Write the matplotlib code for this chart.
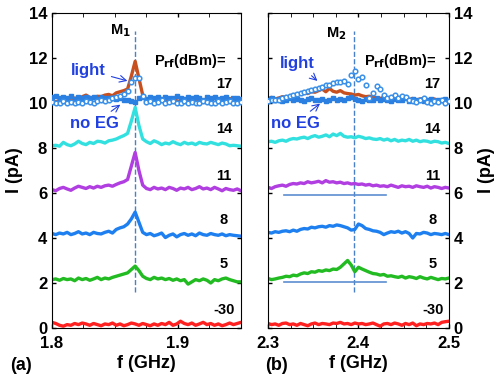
import matplotlib.pyplot as plt
import numpy as np

plt.rcParams['font.family'] = ['Liberation Sans', 'DejaVu Sans']
plt.rcParams['font.weight'] = 'bold'

# sample frequencies (GHz)
f_a = np.round(np.arange(1.800, 1.9501, 0.003), 3)
f_b = np.round(np.arange(2.300, 2.5001, 0.004), 3)

# panel (a) currents, pA
a17 = [10.10, 10.05, 10.12, 10.20, 10.15, 10.10, 10.22, 10.18, 10.28, 10.35,
       10.25, 10.20, 10.30, 10.28, 10.35, 10.38, 10.32, 10.45, 10.50, 10.55,
       10.62, 11.20, 11.85, 11.10, 10.35, 10.10, 10.18, 10.05, 10.12, 10.20,
       10.08, 10.15, 10.22, 10.10, 10.05, 10.12, 10.08, 10.20, 10.15, 10.10,
       10.05, 10.18, 10.12, 10.22, 10.08, 10.15, 10.10, 10.20, 10.12, 10.05, 10.10]
a_light = [10.05, 9.98, 10.02, 10.08, 10.00, 10.05, 9.98, 10.06, 10.02, 10.10,
           10.05, 10.00, 10.08, 10.12, 10.10, 10.15, 10.20, 10.25, 10.30, 10.40,
           10.55, 10.95, 11.10, 11.12, 10.30, 10.05, 10.10, 9.98, 10.05, 10.12,
           10.00, 10.05, 10.10, 9.98, 10.02, 10.08, 10.00, 10.05, 9.98, 10.02,
           10.10, 10.05, 9.98, 10.02, 10.08, 10.00, 10.05, 10.10, 10.02, 9.98, 10.05]
a_noeg = [10.25, 10.30, 10.20, 10.28, 10.22, 10.30, 10.18, 10.25, 10.20, 10.28,
          10.22, 10.25, 10.18, 10.26, 10.20, 10.24, 10.22, 10.18, 10.20, 10.15,
          10.12, 10.10, 10.05, 10.20, 10.25, 10.18, 10.28, 10.22, 10.25, 10.18,
          10.26, 10.20, 10.24, 10.30, 10.22, 10.18, 10.25, 10.20, 10.28, 10.22,
          10.15, 10.25, 10.20, 10.28, 10.18, 10.22, 10.25, 10.15, 10.20, 10.22, 10.18]
a14 = [8.10, 8.12, 8.08, 8.25, 8.15, 8.10, 8.18, 8.30, 8.20, 8.15,
       8.25, 8.20, 8.30, 8.28, 8.22, 8.32, 8.35, 8.40, 8.48, 8.55,
       8.65, 9.20, 9.80, 9.00, 8.40, 8.28, 8.20, 8.32, 8.25, 8.15,
       8.22, 8.18, 8.28, 8.20, 8.15, 8.25, 8.18, 8.22, 8.15, 8.25,
       8.20, 8.18, 8.25, 8.20, 8.15, 8.22, 8.18, 8.10, 8.12, 8.10, 8.08]
a11 = [6.15, 6.10, 6.20, 6.25, 6.18, 6.12, 6.22, 6.30, 6.25, 6.20,
       6.28, 6.22, 6.30, 6.25, 6.32, 6.35, 6.30, 6.38, 6.45, 6.50,
       6.60, 7.20, 7.80, 7.00, 6.35, 6.20, 6.15, 6.25, 6.18, 6.22,
       6.15, 6.25, 6.20, 6.12, 6.22, 6.18, 6.25, 6.15, 6.20, 6.28,
       6.18, 6.22, 6.15, 6.25, 6.18, 6.10, 6.20, 6.15, 6.12, 6.18, 6.10]
a8 = [4.20, 4.15, 4.22, 4.18, 4.25, 4.15, 4.20, 4.28, 4.18, 4.22,
      4.15, 4.25, 4.20, 4.18, 4.25, 4.30, 4.22, 4.38, 4.45, 4.50,
      4.62, 4.85, 5.15, 4.70, 4.25, 4.15, 4.20, 4.10, 4.15, 4.22,
      4.02, 4.12, 4.18, 4.05, 4.15, 4.20, 4.12, 4.18, 4.10, 4.22,
      4.15, 4.12, 4.20, 4.15, 4.12, 4.18, 4.10, 4.15, 4.12, 4.10, 4.08]
a5 = [2.15, 2.18, 2.12, 2.20, 2.15, 2.18, 2.10, 2.22, 2.15, 2.20,
      2.12, 2.18, 2.25, 2.15, 2.22, 2.18, 2.25, 2.30, 2.35, 2.40,
      2.45, 2.60, 2.75, 2.55, 2.30, 2.20, 2.15, 2.25, 2.18, 2.22,
      2.15, 2.20, 2.12, 2.18, 2.10, 2.15, 1.95, 2.05, 2.15, 2.10,
      2.18, 2.12, 2.00, 2.15, 2.10, 2.18, 2.22, 2.15, 2.10, 2.05, 2.05]
a_m30 = [0.25, 0.20, 0.12, 0.08, 0.15, 0.12, 0.20, 0.15, 0.22, 0.18,
         0.12, 0.20, 0.15, 0.10, 0.18, 0.15, 0.22, 0.12, 0.18, 0.10,
         0.15, 0.22, 0.18, 0.12, 0.20, 0.15, 0.10, 0.18, 0.12, 0.20,
         0.15, 0.25, 0.12, 0.18, 0.30, 0.20, 0.15, 0.22, 0.12, 0.18,
         0.25, 0.15, 0.20, 0.12, 0.18, 0.10, 0.15, 0.22, 0.15, 0.20, 0.25]

# panel (b) currents, pA
b17 = [10.20, 10.25, 10.18, 10.22, 10.28, 10.25, 10.30, 10.32, 10.40, 10.38,
       10.45, 10.42, 10.50, 10.48, 10.55, 10.62, 10.50, 10.65, 10.52, 10.48,
       10.55, 10.45, 10.42, 10.40, 10.35, 10.38, 10.32, 10.28, 10.30, 10.25,
       10.22, 10.20, 10.25, 10.18, 10.22, 10.15, 10.20, 10.18, 10.22, 10.15,
       10.20, 10.12, 10.18, 10.20, 10.15, 10.12, 10.18, 10.10, 10.15, 10.12, 10.10]
b_light = [10.10, 10.12, 10.15, 10.12, 10.20, 10.25, 10.30, 10.35, 10.42, 10.45,
           10.50, 10.55, 10.58, 10.62, 10.68, 10.72, 10.78, 10.82, 10.88, 10.92,
           10.95, 10.98, 10.85, 11.25, 11.40, 11.05, 11.15, 10.80, 10.20, 10.45,
           10.75, 10.60, 10.35, 10.20, 10.25, 10.35, 10.20, 10.30, 10.25, 10.15,
           10.10, 10.05, 10.15, 10.20, 10.05, 10.00, 10.10, 10.05, 10.15, 10.00, 10.10]
b_noeg = [10.15, 10.20, 10.12, 10.18, 10.10, 10.15, 10.20, 10.12, 10.18, 10.15,
          10.10, 10.18, 10.20, 10.12, 10.15, 10.18, 10.10, 10.15, 10.22, 10.12,
          10.18, 10.15, 10.20, 10.25, 10.18, 10.15, 10.10, 10.18, 10.12, 10.15,
          10.20, 10.12, 10.18, 10.15, 10.10, 10.18, 10.12, 10.15, 10.20, 10.10,
          10.18, 10.12, 10.15, 10.08, 10.12, 10.18, 10.10, 10.15, 10.12, 10.18, 10.10]
b14 = [8.28, 8.30, 8.25, 8.32, 8.35, 8.30, 8.38, 8.42, 8.40, 8.45,
       8.48, 8.42, 8.50, 8.55, 8.48, 8.52, 8.58, 8.50, 8.62, 8.55,
       8.65, 8.52, 8.48, 8.50, 8.45, 8.52, 8.48, 8.42, 8.45, 8.40,
       8.38, 8.42, 8.35, 8.40, 8.32, 8.38, 8.30, 8.35, 8.32, 8.38,
       8.30, 8.35, 8.28, 8.32, 8.30, 8.25, 8.30, 8.28, 8.22, 8.25, 8.20]
b11 = [6.25, 6.20, 6.28, 6.32, 6.35, 6.30, 6.38, 6.42, 6.40, 6.45,
       6.42, 6.50, 6.45, 6.48, 6.52, 6.45, 6.55, 6.48, 6.50, 6.45,
       6.48, 6.42, 6.45, 6.40, 6.42, 6.38, 6.40, 6.35, 6.38, 6.32,
       6.35, 6.30, 6.32, 6.28, 6.35, 6.30, 6.25, 6.32, 6.28, 6.30,
       6.25, 6.32, 6.28, 6.25, 6.30, 6.22, 6.28, 6.25, 6.20, 6.25, 6.22]
b8 = [4.25, 4.22, 4.28, 4.25, 4.30, 4.32, 4.28, 4.35, 4.30, 4.38,
      4.42, 4.40, 4.48, 4.45, 4.50, 4.52, 4.48, 4.55, 4.52, 4.58,
      4.55, 4.50, 4.45, 4.35, 4.38, 4.62, 4.55, 4.42, 4.38, 4.32,
      4.30, 4.25, 4.15, 4.22, 4.28, 4.25, 4.30, 4.22, 4.28, 4.20,
      4.00, 4.20, 4.18, 4.25, 4.22, 4.15, 4.20, 4.18, 4.15, 4.20, 4.15]
b5 = [2.20, 2.15, 2.18, 2.22, 2.25, 2.30, 2.28, 2.35, 2.32, 2.40,
      2.45, 2.42, 2.50, 2.48, 2.55, 2.52, 2.58, 2.55, 2.62, 2.60,
      2.70, 2.85, 3.00, 2.80, 2.50, 2.70, 2.62, 2.55, 2.48, 2.42,
      2.40, 2.35, 2.38, 2.30, 2.32, 2.28, 2.25, 2.30, 2.22, 2.28,
      2.25, 2.20, 2.28, 2.22, 2.18, 2.25, 2.20, 2.15, 2.20, 2.18, 2.22]
b_m30 = [0.20, 0.15, 0.18, 0.12, 0.20, 0.22, 0.15, 0.18, 0.12, 0.20,
         0.15, 0.10, 0.18, 0.22, 0.15, 0.20, 0.18, 0.15, 0.22, 0.20,
         0.25, 0.18, 0.20, 0.15, 0.22, 0.18, 0.20, 0.15, 0.18, 0.22,
         0.15, 0.08, 0.18, 0.20, 0.15, 0.22, 0.18, 0.12, 0.20, 0.15,
         0.22, 0.10, 0.18, 0.15, 0.20, 0.18, 0.22, 0.15, 0.25, 0.28, 0.30]

powers = ['17', '14', '11', '8', '5', '-30']
colors = ['#c8501e', '#33e0e0', '#b03ee0', '#1e80f0', '#22bb22', '#ff2020']
label_y = [10.85, 8.85, 6.75, 4.8, 2.85, 0.8]

M1 = 1.866
M2 = 2.395
hline_y = [5.9, 2.05]
hline_x = (2.318, 2.43)

fig = plt.figure(figsize=(4.98, 3.79), dpi=100)
axa = fig.add_axes([0.1044, 0.1346, 0.3795, 0.8311])
axb = fig.add_axes([0.538, 0.1346, 0.3635, 0.8311])

blue_txt = '#2040e0'
for ax, f, curves, light, noeg, M, xlim in [
        (axa, f_a, [a17, a14, a11, a8, a5, a_m30], a_light, a_noeg, M1, (1.8, 1.95)),
        (axb, f_b, [b17, b14, b11, b8, b5, b_m30], b_light, b_noeg, M2, (2.3, 2.5))]:
    ax.plot(f, noeg, 's', ms=2.4, color='#2a7fe0', mec='#2a7fe0', zorder=3)
    for y, c in zip(curves, colors):
        ax.plot(f, y, '-', color=c, lw=2.4, zorder=2)
    ax.plot(f, light, 'o', ms=3.3, mfc='white', mec='#3a90e8', mew=1.1, zorder=4)
    ax.plot([M, M], [1.6, 13.2], '--', color='#4a80c8', lw=1, zorder=1)
    ax.set_xlim(*xlim)
    ax.set_ylim(0, 14)
    ax.set_yticks(np.arange(0, 15, 2))
    ax.tick_params(direction='in', top=True, right=True, labelsize=12,
                   length=3, width=1)
    ax.tick_params(axis='x', pad=6)
    ax.tick_params(which='minor', direction='in', top=True, length=3)
    ax.set_xlabel('f (GHz)', fontsize=13, fontweight='bold', labelpad=3)
    ax.set_ylabel('I (pA)', fontsize=13, fontweight='bold')
    xr = xlim[1] - xlim[0]
    for p, ly in zip(powers, label_y):
        ax.text(xlim[0] + 0.91 * xr, ly, p, fontsize=10.5, fontweight='bold',
                ha='center', va='center')
    ax.text(xlim[0] + 0.73 * xr, 11.85, r'P$_{\mathbf{rf}}$(dBm)=', fontsize=10.5,
            fontweight='bold', ha='center', va='center')

axa.set_xticks([1.8, 1.9])
axa.set_xticklabels(['1.8', '1.9'])
axa.set_xticks(np.arange(1.8, 1.951, 0.025), minor=True)
axb.set_xticks([2.3, 2.4, 2.5])
axb.set_xticks(np.arange(2.3, 2.501, 0.025), minor=True)
axb.yaxis.tick_right()
axb.yaxis.set_label_position('right')
axb.tick_params(left=True, labelleft=False, labelright=True)
axb.set_ylabel('I (pA)', fontsize=13, fontweight='bold', rotation=90, labelpad=4)

for y in hline_y:
    axb.plot(hline_x, [y, y], '-', color='#5b8ed0', lw=1.2, zorder=1)

axa.text(1.866 - 0.012, 13.2, r'M$_{\mathbf{1}}$', fontsize=10.5, fontweight='bold',
         ha='center', va='center')
axb.text(2.395 - 0.02, 13.1, r'M$_{\mathbf{2}}$', fontsize=10.5, fontweight='bold',
         ha='center', va='center')

arrow = dict(arrowstyle='->', color=blue_txt, lw=0.8)
axa.annotate('light', xy=(1.862, 10.95), xytext=(1.829, 11.45), fontsize=12,
             fontweight='bold', color=blue_txt, ha='center', va='center',
             arrowprops=arrow)
axa.annotate('no EG', xy=(1.856, 10.0), xytext=(1.834, 9.1), fontsize=12,
             fontweight='bold', color=blue_txt, ha='center', va='center',
             arrowprops=arrow)
axb.annotate('light', xy=(2.357, 10.9), xytext=(2.333, 11.75), fontsize=12,
             fontweight='bold', color=blue_txt, ha='center', va='center',
             arrowprops=arrow)
axb.annotate('no EG', xy=(2.36, 10.05), xytext=(2.330, 9.1), fontsize=12,
             fontweight='bold', color=blue_txt, ha='center', va='center',
             arrowprops=arrow)

fig.text(0.02, 0.035, '(a)', fontsize=13, fontweight='bold', ha='left', va='center')
fig.text(0.532, 0.035, '(b)', fontsize=13, fontweight='bold', ha='left', va='center')

fig.savefig('out.png', dpi=100)
